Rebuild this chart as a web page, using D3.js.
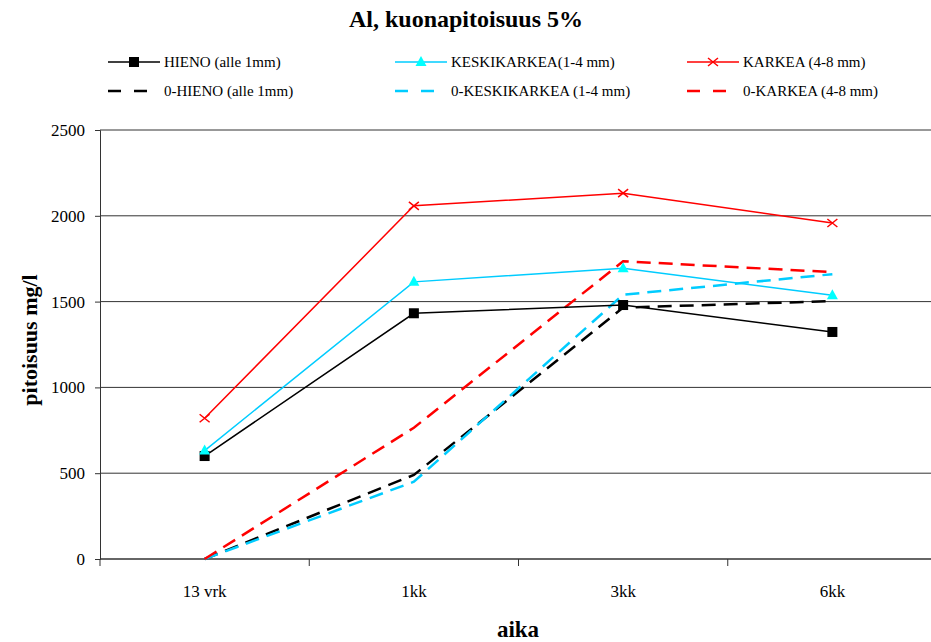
<!DOCTYPE html>
<html lang="en">
<head>
    <meta charset="UTF-8">
    <script src="https://d3js.org/d3.v7.min.js"></script>
    <title>Al, kuonapitoisuus 5%</title>
    <style>
        body { margin: 0; background: #fff; }
    </style>
</head>
<body>
    <div id="chart"></div>
<script>
    const FONT = "'Liberation Serif', 'Times New Roman', Times, serif";

    const categories = ["13 vrk", "1kk", "3kk", "6kk"];
    const yTicks = [0, 500, 1000, 1500, 2000, 2500];

    const hieno = [600, 1432, 1480, 1323];
    const keskikarkea = [632, 1615, 1695, 1537];
    const karkea = [820, 2058, 2132, 1958];
    const hieno0 = [0, 490, 1465, 1503];
    const keskikarkea0 = [0, 450, 1540, 1660];
    const karkea0 = [0, 765, 1735, 1672];

    const seriesNames = ["HIENO (alle 1mm)", "KESKIKARKEA(1-4 mm)", "KARKEA  (4-8 mm)",
                         "0-HIENO (alle 1mm)", "0-KESKIKARKEA (1-4 mm)", "0-KARKEA  (4-8 mm)"];

    const series = [
        {name: seriesNames[0], values: hieno, color: "#000000", marker: "square", dash: null},
        {name: seriesNames[1], values: keskikarkea, color: "#00CCFF", marker: "triangle", dash: null},
        {name: seriesNames[2], values: karkea, color: "#FF0000", marker: "cross", dash: null},
        {name: seriesNames[3], values: hieno0, color: "#000000", marker: null, dash: "14,8"},
        {name: seriesNames[4], values: keskikarkea0, color: "#00CCFF", marker: null, dash: "14,8"},
        {name: seriesNames[5], values: karkea0, color: "#FF0000", marker: null, dash: "14,8"}
    ];

    const W = 931, H = 642;
    const pLeft = 100, pRight = 937, pTop = 130, pBottom = 559;

    const svg = d3.select("#chart").append("svg")
        .attr("width", W).attr("height", H)
        .attr("font-family", FONT);

    // title
    svg.append("text")
        .attr("x", 466).attr("y", 27)
        .attr("text-anchor", "middle")
        .attr("font-family", FONT)
        .style("font-size", "24px").style("font-weight", "bold")
        .text("Al, kuonapitoisuus 5%");

    const x = d3.scaleBand().domain(categories).range([pLeft, pRight]).padding(0);
    const y = d3.scaleLinear().domain([0, 2500]).range([pBottom, pTop]);
    const cx = c => x(c) + x.bandwidth() / 2;

    // gridlines
    svg.append("g").selectAll("line")
        .data(yTicks.filter(d => d > 0))
        .join("line")
        .attr("x1", pLeft).attr("x2", pRight)
        .attr("y1", d => y(d)).attr("y2", d => y(d))
        .attr("stroke", "#333").attr("stroke-width", 1);

    // y axis
    const yAxis = svg.append("g")
        .attr("transform", "translate(" + pLeft + ",0)")
        .call(d3.axisLeft(y).tickValues(yTicks).tickSize(5).tickPadding(10).tickFormat(d3.format("d")));
    yAxis.attr("font-family", FONT).attr("font-size", 17);
    yAxis.select(".domain").attr("stroke", "#333");
    yAxis.selectAll(".tick line").attr("stroke", "#333");
    yAxis.selectAll("text").attr("fill", "#000");

    // x axis
    svg.append("line")
        .attr("x1", pLeft).attr("x2", pRight)
        .attr("y1", pBottom).attr("y2", pBottom)
        .attr("stroke", "#333").attr("stroke-width", 1.5);
    svg.append("g").selectAll("line")
        .data(categories.concat(["end"]))
        .join("line")
        .attr("x1", (d, i) => pLeft + i * x.bandwidth())
        .attr("x2", (d, i) => pLeft + i * x.bandwidth())
        .attr("y1", pBottom).attr("y2", pBottom + 7)
        .attr("stroke", "#333");
    svg.append("g").selectAll("text")
        .data(categories)
        .join("text")
        .attr("x", d => cx(d)).attr("y", 597)
        .attr("text-anchor", "middle")
        .attr("font-family", FONT)
        .style("font-size", "17px")
        .text(d => d);

    // axis titles
    svg.append("text")
        .attr("x", 518).attr("y", 637)
        .attr("text-anchor", "middle")
        .attr("font-family", FONT)
        .style("font-size", "23px").style("font-weight", "bold")
        .text("aika");
    svg.append("text")
        .attr("transform", "translate(37,340) rotate(-90)")
        .attr("text-anchor", "middle")
        .attr("font-family", FONT)
        .style("font-size", "22px").style("font-weight", "bold")
        .text("pitoisuus mg/l");

    function drawMarker(g, type, color, px, py) {
        if (type === "square") {
            g.append("rect").attr("x", px - 5).attr("y", py - 5)
                .attr("width", 10).attr("height", 10).attr("fill", "#000");
        } else if (type === "triangle") {
            g.append("path")
                .attr("d", "M" + px + "," + (py - 6) + "L" + (px + 5.5) + "," + (py + 4) + "L" + (px - 5.5) + "," + (py + 4) + "Z")
                .attr("fill", "#00FFFF");
        } else if (type === "cross") {
            g.append("path")
                .attr("d", "M" + (px - 5) + "," + (py - 4) + "L" + (px + 5) + "," + (py + 4) + "M" + (px - 5) + "," + (py + 4) + "L" + (px + 5) + "," + (py - 4))
                .attr("stroke", color).attr("stroke-width", 1.5).attr("fill", "none");
        }
    }

    const line = d3.line().x((d, i) => cx(categories[i])).y(d => y(d));

    // dashed first, solid on top
    const order = [3, 4, 5, 0, 1, 2];
    order.forEach(k => {
        const s = series[k];
        const g = svg.append("g");
        g.append("path")
            .datum(s.values)
            .attr("d", line)
            .attr("fill", "none")
            .attr("stroke", s.color)
            .attr("stroke-width", s.dash ? 2.5 : 1.5)
            .attr("stroke-dasharray", s.dash);
        if (s.marker) {
            s.values.forEach((v, i) => drawMarker(g, s.marker, s.color, cx(categories[i]), y(v)));
        }
    });

    // legend
    const legX = [108, 395, 687];
    const legY = [62, 91];
    series.forEach((s, k) => {
        const col = k % 3, row = Math.floor(k / 3);
        const lx = legX[col], ly = legY[row];
        const g = svg.append("g");
        g.append("line")
            .attr("x1", lx).attr("x2", lx + 52)
            .attr("y1", ly).attr("y2", ly)
            .attr("stroke", s.color)
            .attr("stroke-width", s.dash ? 2.5 : 1.5)
            .attr("stroke-dasharray", s.dash ? "13,13" : null);
        if (s.marker) drawMarker(g, s.marker, s.color, lx + 26, ly);
        g.append("text")
            .attr("x", lx + 56).attr("y", ly + 5)
            .attr("font-family", FONT)
            .style("font-size", "15px")
            .text(s.name);
    });
</script>
</body>
</html>
